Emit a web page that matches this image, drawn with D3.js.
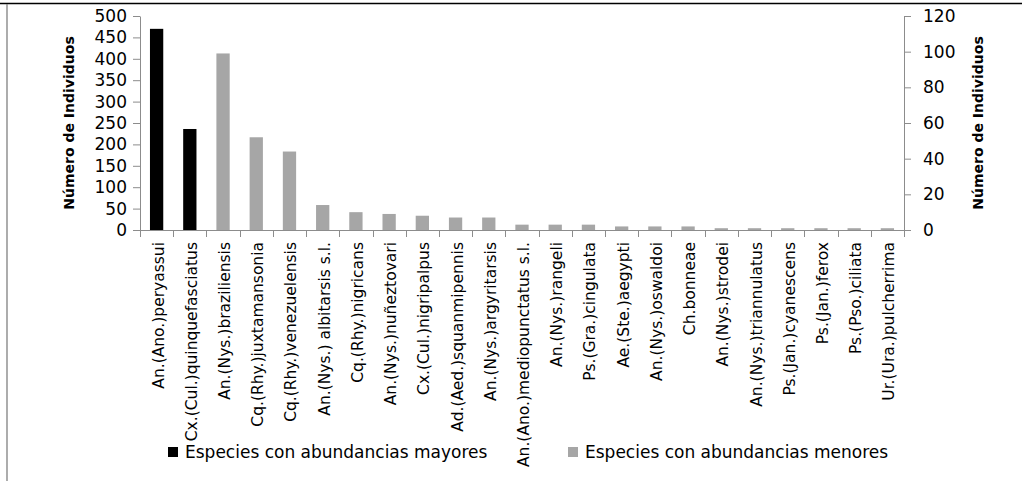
<!DOCTYPE html>
<html>
<head>
<meta charset="utf-8">
<script src="https://cdn.jsdelivr.net/npm/d3@7/dist/d3.min.js"></script>
<style>
  html, body { margin: 0; padding: 0; background: #fff; }
  svg { display: block; }
  text { font-family: "DejaVu Sans", sans-serif; fill: #000; }
</style>
</head>
<body>
<svg id="chart" width="1022" height="481"></svg>
<script>
const categories = [
  "An.(Ano.)peryassui", "Cx.(Cul.)quinquefasciatus", "An.(Nys.)braziliensis",
  "Cq.(Rhy.)juxtamansonia", "Cq.(Rhy.)venezuelensis", "An.(Nys.) albitarsis s.l.",
  "Cq.(Rhy.)nigricans", "An.(Nys.)nuñeztovari", "Cx.(Cul.)nigripalpus",
  "Ad.(Aed.)squanmipennis", "An.(Nys.)argyritarsis", "An.(Ano.)mediopunctatus s.l.",
  "An.(Nys.)rangeli", "Ps.(Gra.)cingulata", "Ae.(Ste.)aegypti",
  "An.(Nys.)oswaldoi", "Ch.bonneae", "An.(Nys.)strodei",
  "An.(Nys.)triannulatus", "Ps.(Jan.)cyanescens", "Ps.(Jan.)ferox",
  "Ps.(Pso.)ciliata", "Ur.(Ura.)pulcherrima"
];
// Left axis series
const mayores = [470, 236, null, null, null, null, null, null, null, null, null, null,
                 null, null, null, null, null, null, null, null, null, null, null];
// Right axis series
const menores = [null, null, 99, 52, 44, 14, 10, 9, 8, 7, 7, 3,
                 3, 3, 2, 2, 2, 1, 1, 1, 1, 1, 1];
const leftTicks = [0, 50, 100, 150, 200, 250, 300, 350, 400, 450, 500];
const rightTicks = [0, 20, 40, 60, 80, 100, 120];
const seriesNames = ["Especies con abundancias mayores", "Especies con abundancias menores"];
const axisTitle = "Número de Individuos";

const svg = d3.select("#chart");
const plot = { left: 140, right: 904, top: 16, bottom: 230 };
const axisColor = "#8c8c8c";
const colors = ["#000000", "#a6a6a6"];

// frame lines
svg.append("line").attr("x1", 0).attr("x2", 1022).attr("y1", 3.5).attr("y2", 3.5)
  .attr("stroke", "#000").attr("stroke-width", 1.3);
svg.append("line").attr("x1", 7).attr("x2", 7).attr("y1", 4).attr("y2", 481)
  .attr("stroke", "#808080").attr("stroke-width", 1.3);

const x = d3.scaleBand().domain(categories).range([plot.left, plot.right])
  .paddingInner(0.6).paddingOuter(0.3);
const yL = d3.scaleLinear().domain([0, 500]).range([plot.bottom, plot.top]);
const yR = d3.scaleLinear().domain([0, 120]).range([plot.bottom, plot.top]);

// bars
svg.append("g").selectAll("rect").data(categories.map((c, i) => ({ c, v: mayores[i] })).filter(d => d.v != null))
  .join("rect")
  .attr("x", d => x(d.c)).attr("width", x.bandwidth())
  .attr("y", d => yL(d.v)).attr("height", d => yL(0) - yL(d.v))
  .attr("fill", colors[0]);
svg.append("g").selectAll("rect").data(categories.map((c, i) => ({ c, v: menores[i] })).filter(d => d.v != null))
  .join("rect")
  .attr("x", d => x(d.c)).attr("width", x.bandwidth())
  .attr("y", d => yR(d.v)).attr("height", d => yR(0) - yR(d.v))
  .attr("fill", colors[1]);

// left axis
const gL = svg.append("g").attr("transform", `translate(${plot.left},0)`)
  .call(d3.axisLeft(yL).tickValues(leftTicks).tickSize(7).tickPadding(6).tickSizeOuter(0));
gL.select(".domain").attr("stroke", axisColor);
gL.selectAll(".tick line").attr("stroke", axisColor);
gL.selectAll(".tick text").attr("font-size", 17).attr("fill", "#000");

// right axis
const gR = svg.append("g").attr("transform", `translate(${plot.right},0)`)
  .call(d3.axisRight(yR).tickValues(rightTicks).tickSize(7).tickPadding(12).tickSizeOuter(0));
gR.select(".domain").attr("stroke", axisColor);
gR.selectAll(".tick line").attr("stroke", axisColor);
gR.selectAll(".tick text").attr("font-size", 17).attr("fill", "#000");

// bottom axis line and category ticks
svg.append("line").attr("x1", plot.left).attr("x2", plot.right + 7)
  .attr("y1", plot.bottom + 0.5).attr("y2", plot.bottom + 0.5).attr("stroke", axisColor);
const boundaries = categories.map(c => x(c) - x.step() * 0.3).concat([plot.right]);
svg.append("g").selectAll("line").data(boundaries).join("line")
  .attr("x1", d => Math.round(d) + 0.5).attr("x2", d => Math.round(d) + 0.5)
  .attr("y1", plot.bottom).attr("y2", plot.bottom + 7).attr("stroke", axisColor);

// category labels
svg.append("g").selectAll("text").data(categories).join("text")
  .attr("transform", d => `translate(${x(d) + x.bandwidth() / 2 + 2},242) rotate(-90)`)
  .attr("text-anchor", "end").attr("dominant-baseline", "central")
  .attr("font-size", 15.5).text(d => d);

// axis titles
svg.append("text").attr("transform", "translate(69,123) rotate(-90)")
  .attr("text-anchor", "middle").attr("dominant-baseline", "central")
  .attr("font-size", 14).attr("font-weight", "bold").text(axisTitle);
svg.append("text").attr("transform", "translate(978,123) rotate(-90)")
  .attr("text-anchor", "middle").attr("dominant-baseline", "central")
  .attr("font-size", 14).attr("font-weight", "bold").text(axisTitle);

// legend
const legendPos = [168, 568];
seriesNames.forEach((name, i) => {
  const g = svg.append("g").attr("transform", `translate(${legendPos[i]},447)`);
  g.append("rect").attr("width", 10).attr("height", 10).attr("fill", colors[i]);
  g.append("text").attr("x", 17).attr("y", 11).attr("font-size", 17).text(name);
});
</script>
</body>
</html>
